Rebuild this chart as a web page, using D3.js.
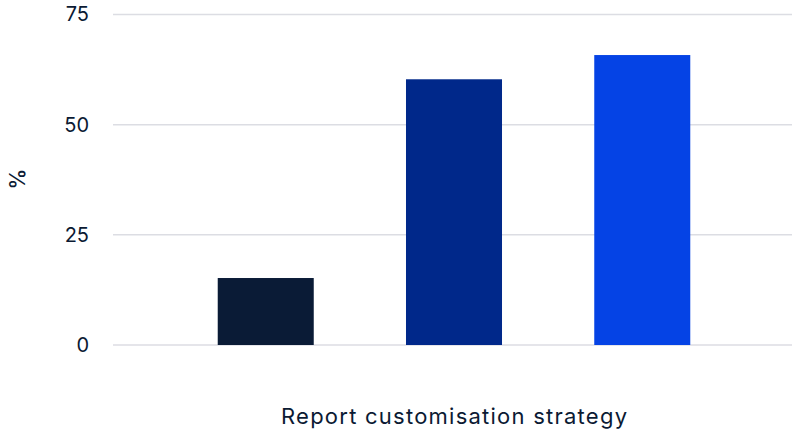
<!DOCTYPE html>
<html>
<head>
<meta charset="utf-8">
<script src="https://cdn.jsdelivr.net/npm/d3@7"></script>
<style>
  html, body { margin: 0; padding: 0; background: #fff; }
  svg { display: block; font-family: "Inter", "Open Sans", sans-serif; }
</style>
</head>
<body>
<svg id="chart" width="792" height="435"></svg>
<script>
const categories = ["A", "B", "C"];
const values = [15.2, 60.3, 65.8];
const colors = ["#0a1b36", "#00288a", "#0543e5"];
const yTicks = [0, 25, 50, 75];
const xLabel = "Report customisation strategy";
const yLabel = "%";

const svg = d3.select("#chart");
const textColor = "#0b1a33";

const y = d3.scaleLinear().domain([0, 75]).range([345, 14.5]);
const x = d3.scaleBand().domain(categories).range([114, 794]).paddingInner(0.49).paddingOuter(0.551);

// gridlines
svg.append("g").selectAll("line").data(yTicks).join("line")
  .attr("x1", 113).attr("x2", 792)
  .attr("y1", d => y(d)).attr("y2", d => y(d))
  .attr("stroke", "#dcdde3").attr("stroke-width", 1.5);

// y axis labels
const yAxis = d3.axisLeft(y).tickValues(yTicks).tickSize(0).tickPadding(0);
const yg = svg.append("g").attr("transform", "translate(89,0)").call(yAxis);
yg.select(".domain").remove();
yg.selectAll("text").attr("font-size", 20).attr("fill", textColor)
  .attr("font-family", "Inter, 'Open Sans', sans-serif").attr("dy", "0.32em");

// bars
svg.append("g").selectAll("rect").data(values).join("rect")
  .attr("x", (d, i) => x(categories[i]))
  .attr("width", x.bandwidth())
  .attr("y", d => y(d))
  .attr("height", d => y(0) - y(d))
  .attr("fill", (d, i) => colors[i]);

// x label
svg.append("text").attr("x", 454).attr("y", 424)
  .attr("text-anchor", "middle").attr("font-size", 22).attr("fill", textColor)
  .attr("textLength", 346).attr("lengthAdjust", "spacing")
  .text(xLabel);

// y label
svg.append("text").attr("transform", "translate(25,179) rotate(-90)")
  .attr("text-anchor", "middle").attr("font-size", 21).attr("font-weight", 500).attr("fill", textColor)
  .text(yLabel);
</script>
</body>
</html>
